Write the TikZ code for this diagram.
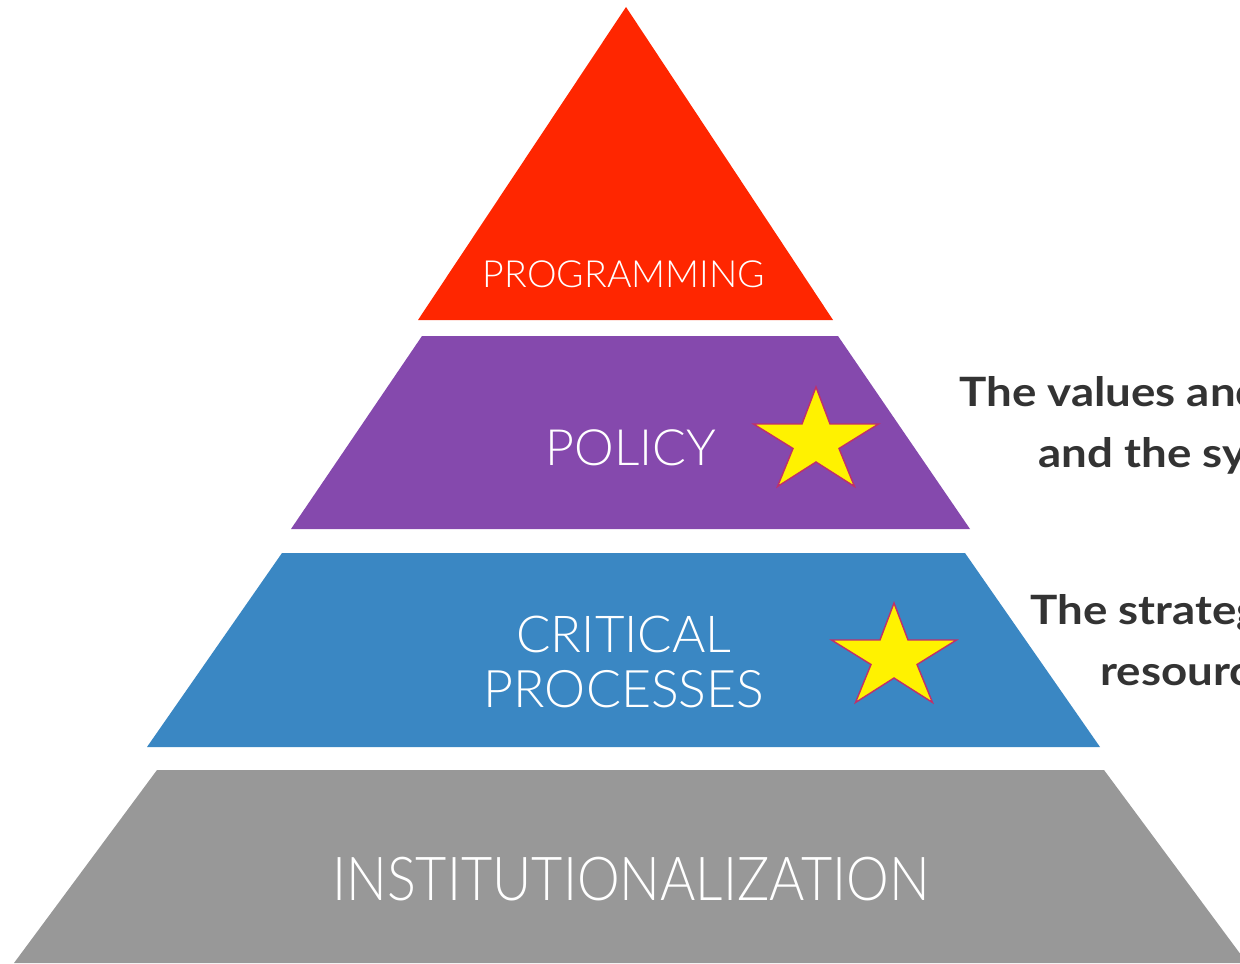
\documentclass[tikz,border=0pt]{standalone}
\usepackage{fontspec}
\setmainfont{Lato}
\newfontfamily\thinfont{Lato Light}
\newfontfamily\narrowthinfont{Lato Light}[FakeStretch=0.89]
\newfontfamily\sidefont{Lato}[FakeStretch=1.13]
\usepackage{tikz}
\usetikzlibrary{positioning}

\definecolor{topred}{HTML}{FF2600}
\definecolor{policypurple}{HTML}{8549AD}
\definecolor{processblue}{HTML}{3A87C3}
\definecolor{baseground}{HTML}{989898}
\definecolor{starrim}{HTML}{C0306A}
\definecolor{sidegrey}{HTML}{333333}

\begin{document}
\begin{tikzpicture}[x=0.02cm, y=-0.02cm,
                    level_label/.style={text=white, font=\thinfont, align=center, inner sep=0, anchor=base},
                    side_label/.style={text=sidegrey, font=\sidefont\bfseries\fontsize{23}{27}\selectfont, inner sep=0, anchor=base west},
                    pics/goldstar/.style={code={
                        \draw[starrim, fill=yellow, line width=.8pt, line join=miter]
                        (0,-53) -- (14,-16) -- (62.5,-16) -- (23,8.5) -- (38.5,46.5)
                        -- (0,22) -- (-38.5,46.5) -- (-23,8.5) -- (-62.5,-16) -- (-14,-16) -- cycle;
                    }}
                    ]
    \useasboundingbox (0,0) rectangle (1240,963);
    \clip (0,0) rectangle (1240,963);

    % the four layers, top to bottom
    \fill[topred] (626,7) -- (833,320) -- (418,320) -- cycle;
    \fill[policypurple] (422,336) -- (838,336) -- (970,529) -- (291,529) -- cycle;
    \fill[processblue] (282,553) -- (965,553) -- (1100,747) -- (147,747) -- cycle;
    \fill[baseground] (157,770) -- (1104,770) -- (1247,963) -- (14,963) -- cycle;

    \node[level_label, font=\thinfont\fontsize{21.3}{25}\selectfont] (programming) at (624,287) {PROGRAMMING};
    \node[level_label, font=\thinfont\fontsize{28.5}{33}\selectfont] (policy) at (631,465) {POLICY};
    \node[level_label, font=\thinfont\fontsize{29}{31}\selectfont] (critical) at (624,652) {CRITICAL};
    \node[level_label, font=\thinfont\fontsize{29.5}{31}\selectfont] (processes) at (624,707) {PROCESSES};
    \node[level_label, font=\narrowthinfont\fontsize{34.5}{40}\selectfont] (institution) at (631,900) {INSTITUTIONALIZATION};

    \pic at (816,440) {goldstar};
    \pic at (894,656) {goldstar};

    % side notes, cut off at the right edge
    \node[side_label] (values) at (959,406) {The values and};
    \node[side_label] (systems) at (1038,467) {and the sy};
    \node[side_label] (strategy) at (1030,624) {The strateg};
    \node[side_label] (resources) at (1100,685) {resourc};
\end{tikzpicture}
\end{document}
